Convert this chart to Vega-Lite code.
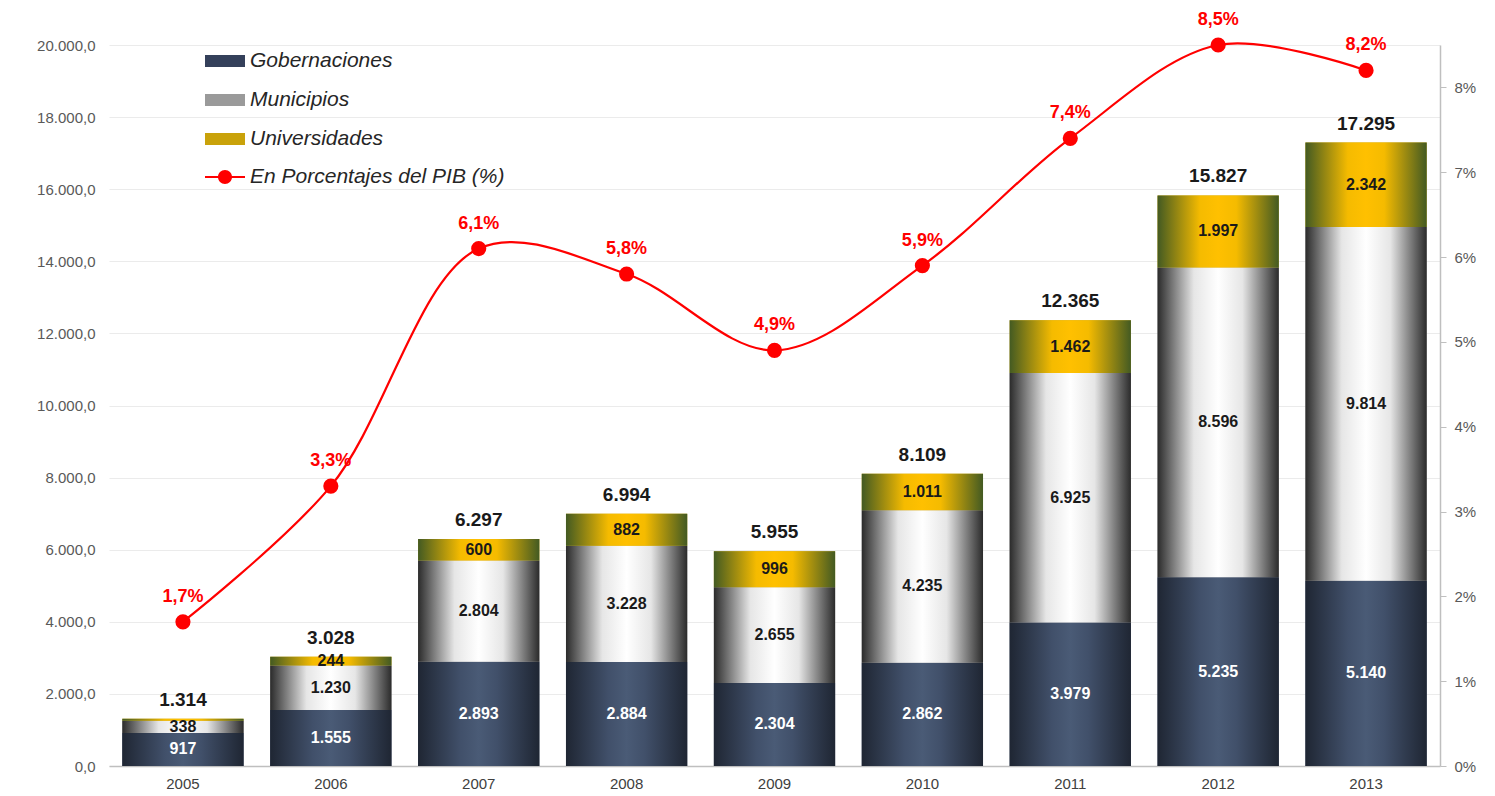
{
  "$schema": "https://vega.github.io/schema/vega-lite/v6.json",
  "width": 1331,
  "height": 721,
  "autosize": {"type": "none"},
  "padding": {"left": 109, "top": 45, "right": 55, "bottom": 30},
  "datasets": {
    "segs": [
      {"year": "2005", "series": "Gobernaciones", "order": 1, "value": 917},
      {"year": "2005", "series": "Municipios", "order": 2, "value": 338},
      {"year": "2005", "series": "Universidades", "order": 3, "value": 59},
      {"year": "2006", "series": "Gobernaciones", "order": 1, "value": 1555},
      {"year": "2006", "series": "Municipios", "order": 2, "value": 1230},
      {"year": "2006", "series": "Universidades", "order": 3, "value": 244},
      {"year": "2007", "series": "Gobernaciones", "order": 1, "value": 2893},
      {"year": "2007", "series": "Municipios", "order": 2, "value": 2804},
      {"year": "2007", "series": "Universidades", "order": 3, "value": 600},
      {"year": "2008", "series": "Gobernaciones", "order": 1, "value": 2884},
      {"year": "2008", "series": "Municipios", "order": 2, "value": 3228},
      {"year": "2008", "series": "Universidades", "order": 3, "value": 882},
      {"year": "2009", "series": "Gobernaciones", "order": 1, "value": 2304},
      {"year": "2009", "series": "Municipios", "order": 2, "value": 2655},
      {"year": "2009", "series": "Universidades", "order": 3, "value": 996},
      {"year": "2010", "series": "Gobernaciones", "order": 1, "value": 2862},
      {"year": "2010", "series": "Municipios", "order": 2, "value": 4235},
      {"year": "2010", "series": "Universidades", "order": 3, "value": 1011},
      {"year": "2011", "series": "Gobernaciones", "order": 1, "value": 3979},
      {"year": "2011", "series": "Municipios", "order": 2, "value": 6925},
      {"year": "2011", "series": "Universidades", "order": 3, "value": 1462},
      {"year": "2012", "series": "Gobernaciones", "order": 1, "value": 5235},
      {"year": "2012", "series": "Municipios", "order": 2, "value": 8596},
      {"year": "2012", "series": "Universidades", "order": 3, "value": 1997},
      {"year": "2013", "series": "Gobernaciones", "order": 1, "value": 5140},
      {"year": "2013", "series": "Municipios", "order": 2, "value": 9814},
      {"year": "2013", "series": "Universidades", "order": 3, "value": 2342}
    ],
    "totals": [
      {"year": "2005", "total": 1314, "pct": 0.017},
      {"year": "2006", "total": 3028, "pct": 0.033},
      {"year": "2007", "total": 6297, "pct": 0.061},
      {"year": "2008", "total": 6994, "pct": 0.058},
      {"year": "2009", "total": 5955, "pct": 0.049},
      {"year": "2010", "total": 8109, "pct": 0.059},
      {"year": "2011", "total": 12365, "pct": 0.074},
      {"year": "2012", "total": 15827, "pct": 0.085},
      {"year": "2013", "total": 17295, "pct": 0.082}
    ]
  },
  "encoding": {
    "x": {
      "field": "year",
      "type": "nominal",
      "scale": {"paddingInner": 0.18, "paddingOuter": 0.09},
      "axis": {
        "title": null,
        "labelAngle": 0,
        "labelFontSize": 15,
        "labelColor": "#404040",
        "labelPadding": 10,
        "ticks": false,
        "domainColor": "#bfbfbf",
        "domainWidth": 1.5
      }
    }
  },
  "layer": [
    {
      "layer": [
        {
          "data": {"name": "segs"},
          "transform": [
            {"stack": "value", "groupby": ["year"], "sort": [{"field": "order", "order": "ascending"}], "as": ["v0", "v1"]},
            {"calculate": "(datum.v0 + datum.v1) / 2", "as": "mid"}
          ],
          "layer": [
            {
              "mark": {"type": "bar"},
              "encoding": {
                "y": {
                  "field": "v0",
                  "type": "quantitative",
                  "scale": {"domain": [0, 20000], "nice": false},
                  "axis": {"title": null, "values": [0, 2000, 4000, 6000, 8000, 10000, 12000, 14000, 16000, 18000, 20000], "format": ",.1f", "labelFontSize": 15, "labelColor": "#595959", "labelPadding": 14, "domain": false, "ticks": false, "grid": true, "gridColor": "#ebebeb"}
                },
                "y2": {"field": "v1"},
                "color": {
                  "field": "series",
                  "type": "nominal",
                  "scale": {"domain": ["Gobernaciones", "Municipios", "Universidades"], "range": ["#34405a", "#9a9a9a", "#c9a20a"]},
                  "legend": {
                    "title": null,
                    "orient": "none",
                    "legendX": 96,
                    "legendY": -4,
                    "symbolType": "M-1,-0.3H1V0.3H-1Z",
                    "symbolSize": 1600,
                    "symbolStrokeWidth": 0,
                    "labelFontSize": 21,
                    "labelFontStyle": "italic",
                    "labelColor": "#262626",
                    "labelOffset": 5,
                    "labelLimit": 500,
                    "rowPadding": 9,
                    "encode": {
                      "symbols": {
                        "update": {
                          "fill": [
                            {"test": "datum.value === 'Gobernaciones'", "value": {"gradient": "linear", "x1": 0, "y1": 0, "x2": 1, "y2": 0, "stops": [{"offset": 0, "color": "#1f2633"}, {"offset": 0.5, "color": "#4a5b76"}, {"offset": 1, "color": "#1f2633"}]}},
                            {"test": "datum.value === 'Municipios'", "value": {"gradient": "linear", "x1": 0, "y1": 0, "x2": 1, "y2": 0, "stops": [{"offset": 0, "color": "#2b2b2b"}, {"offset": 0.35, "color": "#e6e6e6"}, {"offset": 0.5, "color": "#ffffff"}, {"offset": 0.65, "color": "#e6e6e6"}, {"offset": 1, "color": "#2b2b2b"}]}},
                            {"value": {"gradient": "linear", "x1": 0, "y1": 0, "x2": 1, "y2": 0, "stops": [{"offset": 0, "color": "#435a22"}, {"offset": 0.5, "color": "#ffc000"}, {"offset": 1, "color": "#435a22"}]}}
                          ]
                        }
                      }
                    }
                  }
                }
              }
            },
            {
              "transform": [{"filter": "datum.series === 'Gobernaciones'"}],
              "mark": {
                "type": "bar",
                "fill": {"gradient": "linear", "x1": 0, "y1": 0, "x2": 1, "y2": 0, "stops": [
                  {"offset": 0, "color": "#1f2633"},
                  {"offset": 0.35, "color": "#41506a"},
                  {"offset": 0.5, "color": "#4a5b76"},
                  {"offset": 0.65, "color": "#41506a"},
                  {"offset": 1, "color": "#1f2633"}
                ]}
              },
              "encoding": {
                "y": {"field": "v0", "type": "quantitative", "scale": {"domain": [0, 20000], "nice": false}, "axis": {"title": null, "values": [0, 2000, 4000, 6000, 8000, 10000, 12000, 14000, 16000, 18000, 20000], "format": ",.1f", "labelFontSize": 15, "labelColor": "#595959", "labelPadding": 14, "domain": false, "ticks": false, "grid": true, "gridColor": "#ebebeb"}},
                "y2": {"field": "v1"}
              }
            },
            {
              "transform": [{"filter": "datum.series === 'Municipios'"}],
              "mark": {
                "type": "bar",
                "fill": {"gradient": "linear", "x1": 0, "y1": 0, "x2": 1, "y2": 0, "stops": [
                  {"offset": 0, "color": "#2b2b2b"},
                  {"offset": 0.3, "color": "#e6e6e6"},
                  {"offset": 0.5, "color": "#ffffff"},
                  {"offset": 0.7, "color": "#e6e6e6"},
                  {"offset": 1, "color": "#2b2b2b"}
                ]}
              },
              "encoding": {
                "y": {"field": "v0", "type": "quantitative", "scale": {"domain": [0, 20000], "nice": false}, "axis": {"title": null, "values": [0, 2000, 4000, 6000, 8000, 10000, 12000, 14000, 16000, 18000, 20000], "format": ",.1f", "labelFontSize": 15, "labelColor": "#595959", "labelPadding": 14, "domain": false, "ticks": false, "grid": true, "gridColor": "#ebebeb"}},
                "y2": {"field": "v1"}
              }
            },
            {
              "transform": [{"filter": "datum.series === 'Universidades'"}],
              "mark": {
                "type": "bar",
                "fill": {"gradient": "linear", "x1": 0, "y1": 0, "x2": 1, "y2": 0, "stops": [
                  {"offset": 0, "color": "#435a22"},
                  {"offset": 0.35, "color": "#f5bb00"},
                  {"offset": 0.5, "color": "#ffc000"},
                  {"offset": 0.65, "color": "#f5bb00"},
                  {"offset": 1, "color": "#435a22"}
                ]}
              },
              "encoding": {
                "y": {"field": "v0", "type": "quantitative", "scale": {"domain": [0, 20000], "nice": false}, "axis": {"title": null, "values": [0, 2000, 4000, 6000, 8000, 10000, 12000, 14000, 16000, 18000, 20000], "format": ",.1f", "labelFontSize": 15, "labelColor": "#595959", "labelPadding": 14, "domain": false, "ticks": false, "grid": true, "gridColor": "#ebebeb"}},
                "y2": {"field": "v1"}
              }
            },
            {
              "transform": [{"filter": "datum.value >= 100"}],
              "mark": {"type": "text", "fontWeight": "bold", "fontSize": 16, "baseline": "middle", "align": "center"},
              "encoding": {
                "y": {"field": "mid", "type": "quantitative", "scale": {"domain": [0, 20000], "nice": false}, "axis": {"title": null, "values": [0, 2000, 4000, 6000, 8000, 10000, 12000, 14000, 16000, 18000, 20000], "format": ",.1f", "labelFontSize": 15, "labelColor": "#595959", "labelPadding": 14, "domain": false, "ticks": false, "grid": true, "gridColor": "#ebebeb"}},
                "text": {"field": "value", "type": "quantitative", "format": ","},
                "color": {"condition": {"test": "datum.series === 'Gobernaciones'", "value": "#ffffff"}, "value": "#1a1a1a"}
              }
            }
          ]
        },
        {
          "data": {"name": "totals"},
          "mark": {"type": "text", "fontWeight": "bold", "fontSize": 19, "baseline": "bottom", "dy": -9, "color": "#1a1a1a"},
          "encoding": {
            "y": {"field": "total", "type": "quantitative", "scale": {"domain": [0, 20000], "nice": false}, "axis": {"title": null, "values": [0, 2000, 4000, 6000, 8000, 10000, 12000, 14000, 16000, 18000, 20000], "format": ",.1f", "labelFontSize": 15, "labelColor": "#595959", "labelPadding": 14, "domain": false, "ticks": false, "grid": true, "gridColor": "#ebebeb"}},
            "text": {"field": "total", "type": "quantitative", "format": ","}
          }
        }
      ]
    },
    {
      "data": {"name": "totals"},
      "layer": [
        {
          "mark": {"type": "line", "color": "#ff0000", "strokeWidth": 2.2, "interpolate": "catmull-rom"},
          "encoding": {
            "y": {"field": "pct", "type": "quantitative", "scale": {"domain": [0, 0.085], "nice": false}, "axis": {"orient": "right", "title": null, "values": [0, 0.01, 0.02, 0.03, 0.04, 0.05, 0.06, 0.07, 0.08], "format": ".0%", "labelFontSize": 15, "labelColor": "#595959", "labelPadding": 8, "grid": false, "domain": true, "domainColor": "#bfbfbf", "domainWidth": 1.5, "ticks": true, "tickColor": "#bfbfbf", "tickSize": 6}}
          }
        },
        {
          "mark": {"type": "point", "filled": true, "size": 230, "opacity": 1},
          "encoding": {
            "y": {"field": "pct", "type": "quantitative", "scale": {"domain": [0, 0.085], "nice": false}, "axis": {"orient": "right", "title": null, "values": [0, 0.01, 0.02, 0.03, 0.04, 0.05, 0.06, 0.07, 0.08], "format": ".0%", "labelFontSize": 15, "labelColor": "#595959", "labelPadding": 8, "grid": false, "domain": true, "domainColor": "#bfbfbf", "domainWidth": 1.5, "ticks": true, "tickColor": "#bfbfbf", "tickSize": 6}},
            "color": {
              "datum": "En Porcentajes del PIB (%)",
              "type": "nominal",
              "scale": {"range": ["#ff0000"]},
              "legend": {
                "title": null,
                "orient": "none",
                "legendX": 96,
                "legendY": 112,
                "symbolType": "M-1,-0.05H1V0.05H-1Z M-0.35,0A0.35,0.35 0 1,1 0.35,0A0.35,0.35 0 1,1 -0.35,0Z",
                "symbolSize": 1600,
                "symbolStrokeWidth": 0,
                "symbolOpacity": 1,
                "labelFontSize": 21,
                "labelFontStyle": "italic",
                "labelColor": "#262626",
                "labelOffset": 5,
                "labelLimit": 500
              }
            }
          }
        },
        {
          "mark": {"type": "text", "fontWeight": "bold", "fontSize": 18, "color": "#ff0000", "baseline": "bottom", "dy": -16},
          "encoding": {
            "y": {"field": "pct", "type": "quantitative", "scale": {"domain": [0, 0.085], "nice": false}, "axis": {"orient": "right", "title": null, "values": [0, 0.01, 0.02, 0.03, 0.04, 0.05, 0.06, 0.07, 0.08], "format": ".0%", "labelFontSize": 15, "labelColor": "#595959", "labelPadding": 8, "grid": false, "domain": true, "domainColor": "#bfbfbf", "domainWidth": 1.5, "ticks": true, "tickColor": "#bfbfbf", "tickSize": 6}},
            "text": {"field": "pct", "type": "quantitative", "format": ".1%"}
          }
        }
      ]
    }
  ],
  "resolve": {"scale": {"y": "independent", "color": "independent"}},
  "config": {
    "font": "Liberation Sans",
    "view": {"stroke": null},
    "locale": {"number": {"decimal": ",", "thousands": ".", "grouping": [3], "currency": ["", ""]}}
  }
}
